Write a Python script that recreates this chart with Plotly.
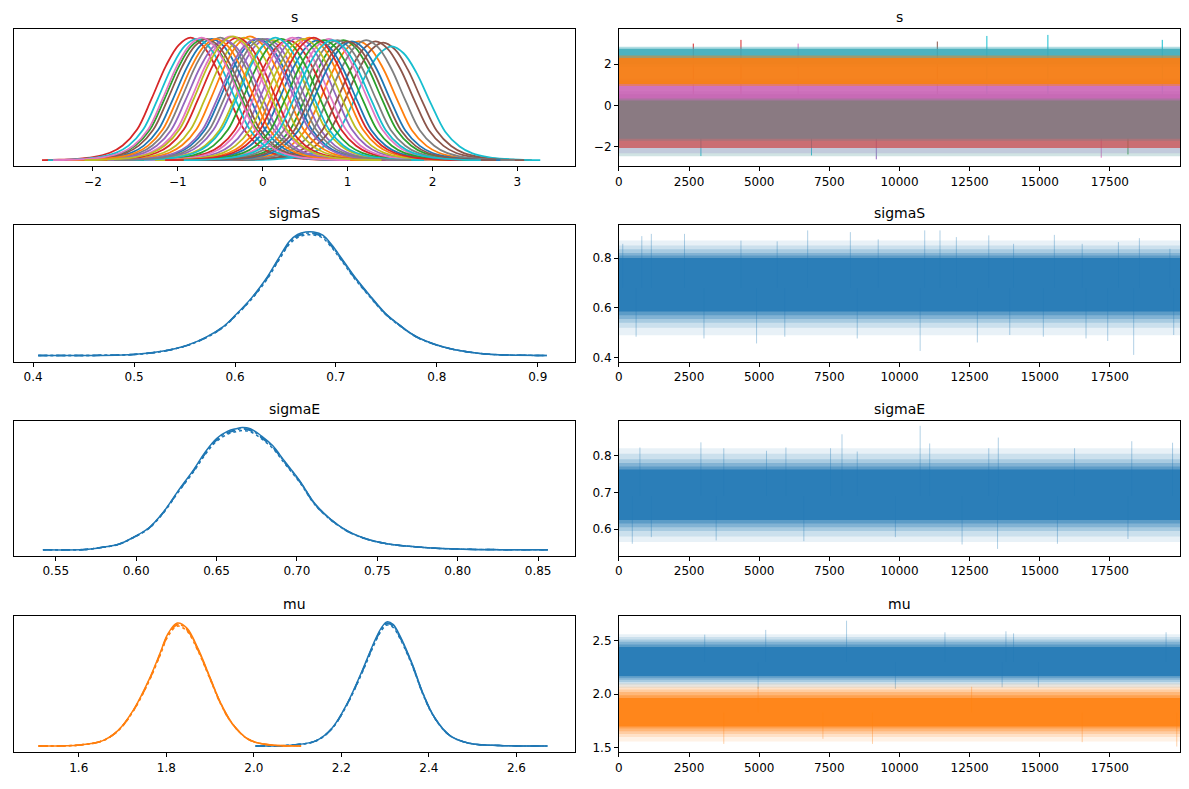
import plotly.graph_objects as go
from plotly.subplots import make_subplots

TAB10 = ["#1f77b4", "#ff7f0e", "#2ca02c", "#d62728", "#9467bd",
         "#8c564b", "#e377c2", "#7f7f7f", "#bcbd22", "#17becf"]
CHAIN_DASH = ["solid", "dash", "dot", "dashdot"]
chain_scale = [1.0, 0.985, 0.975, 0.99]

n_draws = 19999

# ---- kde curves (height normalised so peak = 1)
# s: one shape shared by every element, shifted to each element's centre
s_offsets = [-1.75, -1.55, -1.35, -1.15, -0.95, -0.8, -0.63, -0.46, -0.29, -0.14, 0.0,
             0.14, 0.29, 0.46, 0.63, 0.8, 0.95, 1.15, 1.35, 1.55, 1.75]
s_profile = [0.0, 0.003, 0.01, 0.025, 0.06, 0.12, 0.25, 0.5, 0.77, 0.94, 1.0,
             0.94, 0.77, 0.5, 0.25, 0.12, 0.06, 0.025, 0.01, 0.003, 0.0]
s_centers = [-0.05, 1.13, 0.95, -0.85, 0.05, 1.42, -0.38, -0.5, 0.12, 1.52,
             -0.6, 0.55, -0.7, 0.30, 0.42, 1.33, 0.78, 1.22, -0.22, -0.78,
             0.65, -0.15, 0.22, -0.30, -0.45, -0.66, 0.35, 0.88, 0.48, 0.15,
             1.05, -0.55, 0.72, 0.60, -0.08, 1.0, -0.72, 0.0, -0.35, 0.82]
s_peaks = [0.97, 0.95, 0.96, 0.98, 0.97, 0.94, 0.99, 0.98, 0.96, 0.91,
           0.97, 0.98, 0.97, 0.96, 0.98, 0.95, 0.97, 0.96, 0.98, 0.97,
           0.96, 0.99, 0.97, 0.98, 0.96, 0.97, 0.98, 0.96, 0.97, 0.98,
           0.95, 0.97, 0.96, 0.98, 0.97, 0.95, 0.98, 0.97, 0.99, 0.96]

sigmaS_x = [0.405, 0.499, 0.529, 0.552, 0.571, 0.588, 0.601, 0.616, 0.631, 0.643, 0.654,
            0.662, 0.670, 0.678, 0.687, 0.696, 0.705, 0.718, 0.734, 0.749, 0.764, 0.779,
            0.798, 0.817, 0.843, 0.862, 0.909]
sigmaS_h = [0.0, 0.008, 0.035, 0.08, 0.145, 0.23, 0.33, 0.46, 0.62, 0.78, 0.92,
            0.975, 0.995, 0.995, 0.97, 0.89, 0.79, 0.64, 0.48, 0.34, 0.24, 0.155,
            0.09, 0.048, 0.016, 0.005, 0.0]

sigmaE_x = [0.542, 0.568, 0.579, 0.589, 0.598, 0.608, 0.617, 0.626, 0.636, 0.643, 0.650,
            0.657, 0.662, 0.666, 0.671, 0.678, 0.685, 0.692, 0.702, 0.711, 0.721,
            0.732, 0.744, 0.756, 0.779, 0.803, 0.856]
sigmaE_h = [0.0, 0.003, 0.02, 0.045, 0.10, 0.18, 0.31, 0.48, 0.66, 0.80, 0.91,
            0.97, 0.99, 1.0, 0.99, 0.93, 0.85, 0.73, 0.56, 0.38, 0.25,
            0.15, 0.086, 0.05, 0.019, 0.005, 0.0]

mu0_x = [2.004, 2.091, 2.143, 2.178, 2.213, 2.248, 2.274, 2.291, 2.304, 2.318,
         2.335, 2.361, 2.387, 2.413, 2.448, 2.492, 2.562, 2.671]
mu0_h = [0.0, 0.008, 0.043, 0.14, 0.34, 0.61, 0.83, 0.95, 1.0, 0.98,
         0.88, 0.67, 0.42, 0.23, 0.084, 0.022, 0.003, 0.0]
mu1_x = [1.508, 1.603, 1.655, 1.690, 1.725, 1.760, 1.786, 1.803, 1.825, 1.847,
         1.873, 1.899, 1.925, 1.951, 1.986, 2.021, 2.108]
mu1_h = [0.0, 0.008, 0.043, 0.125, 0.29, 0.53, 0.75, 0.90, 0.99, 0.95,
         0.78, 0.56, 0.34, 0.18, 0.057, 0.016, 0.0]

# ---- trace panels: nested bands from sparse fringe (first) to dense core (last),
# plus the tallest spikes
sigmaS_lo = [0.49, 0.52, 0.54, 0.555, 0.57, 0.585]
sigmaS_hi = [0.87, 0.85, 0.835, 0.82, 0.81, 0.80]
sigmaS_mid = 0.68
sigmaS_spike_x = [136, 815, 1155, 2337, 4349, 5640, 6727, 8249, 9241, 10899, 11443, 12027,
                  13182, 14066, 15520, 16512, 17803, 18550, 19638,
                  612, 3031, 4906, 5912, 8494, 10736, 12775, 13930, 15126, 16648, 17422,
                  18347, 19774]
sigmaS_spike_y = [0.857, 0.888, 0.897, 0.897, 0.87, 0.867, 0.911, 0.904, 0.875, 0.911, 0.911,
                  0.884, 0.891, 0.857, 0.893, 0.857, 0.864, 0.88, 0.837,
                  0.484, 0.477, 0.457, 0.484, 0.477, 0.427, 0.461, 0.491, 0.484, 0.477,
                  0.467, 0.411, 0.491]

sigmaE_lo = [0.565, 0.58, 0.595, 0.605, 0.615, 0.625]
sigmaE_hi = [0.82, 0.805, 0.79, 0.78, 0.77, 0.762]
sigmaE_mid = 0.69
sigmaE_spike_x = [748, 2922, 3737, 5259, 5952, 7542, 7950, 8494, 10736, 11076, 13522, 13182,
                  16240, 18279, 19733,
                  476, 1155, 3466, 6591, 9853, 12231, 13495, 15629, 18143]
sigmaE_spike_y = [0.822, 0.836, 0.82, 0.813, 0.822, 0.82, 0.858, 0.811, 0.881, 0.833, 0.849,
                  0.82, 0.82, 0.839, 0.835,
                  0.56, 0.578, 0.569, 0.567, 0.578, 0.558, 0.546, 0.56, 0.573]

mu0_lo = [2.06, 2.09, 2.115, 2.135, 2.155, 2.17]
mu0_hi = [2.56, 2.535, 2.51, 2.49, 2.465, 2.44]
mu0_mid = 2.3
mu0_spike_x = [5232, 8113, 11620, 13794, 14066, 19502, 3058, 4960, 9853, 13658, 14949]
mu0_spike_y = [2.6, 2.686, 2.578, 2.587, 2.568, 2.578, 2.556, 2.05, 2.05, 2.065, 2.065]

mu1_lo = [1.56, 1.6, 1.63, 1.655, 1.68, 1.70]
mu1_hi = [2.1, 2.07, 2.045, 2.02, 1.99, 1.965]
mu1_mid = 1.83
mu1_spike_x = [4960, 12571, 3737, 9037, 16512, 19883, 7271]
mu1_spike_y = [2.07, 2.07, 1.537, 1.537, 1.553, 1.512, 1.584]

# s trace: stacked colour bands in drawing order
s_band_lo = [-2.45, -2.3, -2.05, -1.7, -1.6, 0.25, 0.35, 1.85, 2.0, 0.95, 1.05]
s_band_hi = [-1.50, -1.6, -1.35, 0.7, 0.55, 1.3, 1.2, 2.85, 2.75, 2.42, 2.3]
s_band_color = ["rgba(120,175,175,0.35)", "rgba(150,130,200,0.25)", "rgba(205,70,70,0.7)",
                "rgba(138,122,130,0.5)", "rgb(138,122,130)",
                "rgba(200,110,190,0.5)", "rgba(205,105,185,0.85)",
                "rgba(60,170,185,0.4)", "rgba(60,170,185,0.85)",
                "rgba(245,128,25,0.5)", "rgba(245,128,25,0.95)"]
s_spike_x = [15289, 13114, 4349, 6387, 19366, 11348, 2650, 9173, 17191, 2922, 18143, 6863]
s_spike_y = [3.42, 3.37, 3.18, 3.0, 3.18, 3.1, 3.0, -2.6, -2.52, -2.44, -2.36, -2.41]
s_spike_c = [9, 9, 3, 6, 9, 5, 3, 4, 6, 9, 2, 9]

titles = ["s", "s", "sigmaS", "sigmaS", "sigmaE", "sigmaE", "mu", "mu"]

# the page adds an 8px body margin, so the figure is drawn 8px smaller
OFF = 8
W, H = 1189 - OFF, 789 - OFF
left_px = [10, 573]
right_px = [617, 1180]
rows_px = [[29, 167], [226, 363], [423, 558], [618, 755]]

band_alpha = [0.1, 0.14, 0.2, 0.28, 0.38, 0.8]

fig = make_subplots(rows=4, cols=2)


def line(x, y, color, dash="solid", width=1.5):
    return go.Scatter(x=x, y=y, mode="lines", line=dict(color=color, width=width, dash=dash, shape="spline"),
                      hoverinfo="skip", showlegend=False)


def add_kde(x, h, color, row):
    for c in range(4):
        fig.add_trace(line(x, [v * chain_scale[c] for v in h], color, CHAIN_DASH[c]), row=row, col=1)


def add_band(lo, hi, color, row):
    fig.add_trace(go.Scatter(x=[0, n_draws, n_draws, 0, 0], y=[lo, lo, hi, hi, lo], mode="lines",
                             fill="toself", fillcolor=color, line=dict(width=0),
                             hoverinfo="skip", showlegend=False), row=row, col=2)


def add_spikes(xs, ys, base, color, row):
    px, py = [], []
    for sx, sy in zip(xs, ys):
        px += [sx, sx, None]
        py += [base, sy, None]
    fig.add_trace(go.Scatter(x=px, y=py, mode="lines", line=dict(color=color, width=1),
                             hoverinfo="skip", showlegend=False), row=row, col=2)


def add_trace_panel(los, his, mid, sx, sy, rgb, row):
    add_spikes(sx, sy, mid, "rgba(%s,0.35)" % rgb, row)
    for lo, hi, a in zip(los, his, band_alpha):
        add_band(lo, hi, "rgba(%s,%s)" % (rgb, a), row)


# s kde
for i, (c0, pk) in enumerate(zip(s_centers, s_peaks)):
    fig.add_trace(line([c0 + o for o in s_offsets], [pk * p for p in s_profile],
                       TAB10[i % 10], width=1.8), row=1, col=1)

add_kde(sigmaS_x, sigmaS_h, TAB10[0], 2)
add_kde(sigmaE_x, sigmaE_h, TAB10[0], 3)
add_kde(mu0_x, mu0_h, TAB10[0], 4)
add_kde(mu1_x, mu1_h, TAB10[1], 4)

# s trace
for sx, sy, sc in zip(s_spike_x, s_spike_y, s_spike_c):
    add_spikes([sx], [sy], 0.4, TAB10[sc], 1)
for lo, hi, col in zip(s_band_lo, s_band_hi, s_band_color):
    add_band(lo, hi, col, 1)

BLUE, ORANGE = "31,119,180", "255,127,14"
add_trace_panel(sigmaS_lo, sigmaS_hi, sigmaS_mid, sigmaS_spike_x, sigmaS_spike_y, BLUE, 2)
add_trace_panel(sigmaE_lo, sigmaE_hi, sigmaE_mid, sigmaE_spike_x, sigmaE_spike_y, BLUE, 3)
add_trace_panel(mu0_lo, mu0_hi, mu0_mid, mu0_spike_x, mu0_spike_y, BLUE, 4)
add_trace_panel(mu1_lo, mu1_hi, mu1_mid, mu1_spike_x, mu1_spike_y, ORANGE, 4)

axis_style = dict(showline=True, linecolor="black", linewidth=1, mirror=True, ticks="outside",
                  ticklen=4, tickcolor="black", showgrid=False, zeroline=False,
                  tickfont=dict(family="DejaVu Sans", size=12, color="black"))

kde_x = [dict(range=[-2.93, 3.68], tickvals=[-2, -1, 0, 1, 2, 3]),
         dict(range=[0.381, 0.937], tickvals=[0.4, 0.5, 0.6, 0.7, 0.8, 0.9], tickformat=".1f"),
         dict(range=[0.524, 0.873], tickvals=[0.55, 0.6, 0.65, 0.7, 0.75, 0.8, 0.85], tickformat=".2f"),
         dict(range=[1.452, 2.734], tickvals=[1.6, 1.8, 2.0, 2.2, 2.4, 2.6], tickformat=".1f")]
trace_y = [dict(range=[-2.94, 3.71], tickvals=[-2, 0, 2]),
           dict(range=[0.384, 0.932], tickvals=[0.4, 0.6, 0.8], tickformat=".1f"),
           dict(range=[0.527, 0.893], tickvals=[0.6, 0.7, 0.8], tickformat=".1f"),
           dict(range=[1.46, 2.733], tickvals=[1.5, 2.0, 2.5], tickformat=".1f")]

annotations = []
for r in range(4):
    top, bot = rows_px[r]
    ydom = [1 - (bot - OFF) / H, 1 - (top - OFF) / H]
    for c, xpx in enumerate([left_px, right_px]):
        xdom = [(xpx[0] - OFF) / W, (xpx[1] - OFF) / W]
        if c == 0:
            fig.update_xaxes(domain=xdom, **axis_style, **kde_x[r], row=r + 1, col=1)
            fig.update_yaxes(domain=ydom, **axis_style, range=[-0.05, 1.05],
                             showticklabels=False, row=r + 1, col=1)
            fig.update_yaxes(ticks="", row=r + 1, col=1)
        else:
            fig.update_xaxes(domain=xdom, **axis_style, range=[0, n_draws], tickformat="d",
                             tickvals=[0, 2500, 5000, 7500, 10000, 12500, 15000, 17500],
                             row=r + 1, col=2)
            fig.update_yaxes(domain=ydom, **axis_style, **trace_y[r], row=r + 1, col=2)
        annotations.append(dict(text=titles[r * 2 + c], x=(xdom[0] + xdom[1]) / 2, y=ydom[1],
                                xref="paper", yref="paper", xanchor="center", yanchor="bottom",
                                yshift=2, showarrow=False,
                                font=dict(family="DejaVu Sans", size=14, color="black")))

fig.update_layout(width=W, height=H, margin=dict(l=0, r=0, t=0, b=0),
                  plot_bgcolor="white", paper_bgcolor="white", annotations=annotations)

fig.write_html("out.html")
